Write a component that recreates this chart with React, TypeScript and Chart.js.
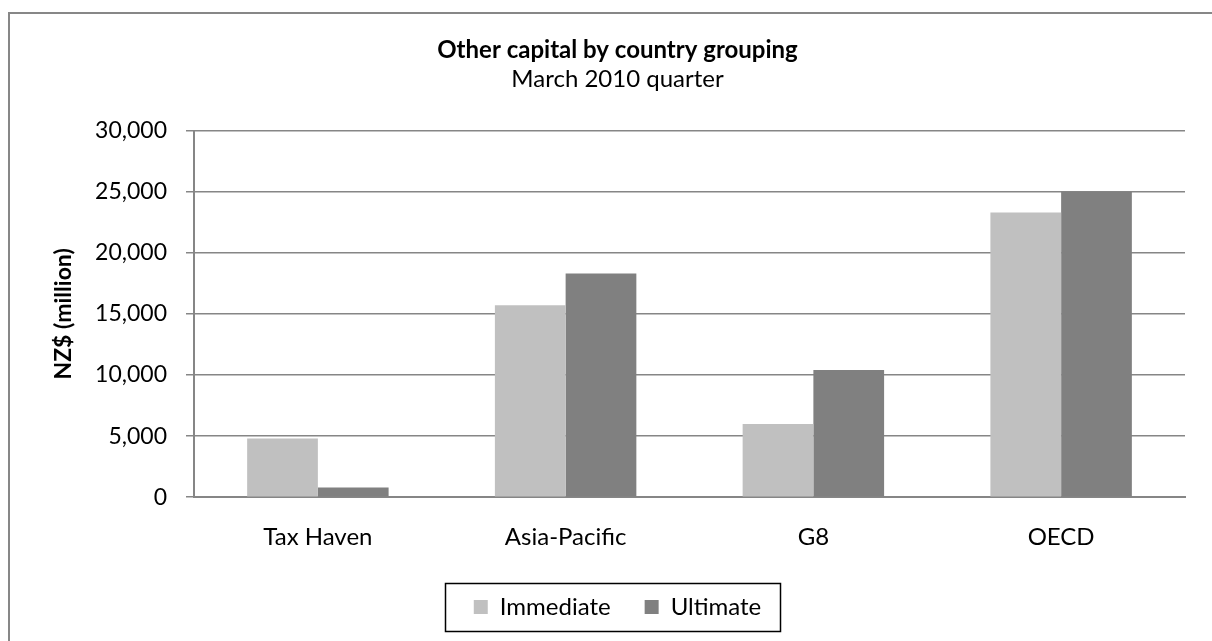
import React, { useEffect, useRef } from "react";
import { Chart, registerables } from "chart.js";

Chart.register(...registerables);

const categories = ["Tax Haven", "Asia-Pacific", "G8", "OECD"];
const immediate = [4800, 15700, 6000, 23300];
const ultimate = [800, 18300, 10400, 25000];
const yTicks = [0, 5000, 10000, 15000, 20000, 25000, 30000];

const FONT = "Lato, 'Open Sans', sans-serif";

const legendBox = {
  id: "legendBox",
  afterDraw(chart: any) {
    const lg = chart.legend;
    if (!lg || !lg.legendHitBoxes || !lg.legendHitBoxes.length) return;
    const hb = lg.legendHitBoxes;
    let minX = Infinity, maxX = -Infinity, minY = Infinity, maxY = -Infinity;
    hb.forEach((b: any) => {
      minX = Math.min(minX, b.left);
      maxX = Math.max(maxX, b.left + b.width);
      minY = Math.min(minY, b.top);
      maxY = Math.max(maxY, b.top + b.height);
    });
    const cy = (minY + maxY) / 2;
    const ctx = chart.ctx;
    ctx.save();
    ctx.strokeStyle = "#000";
    ctx.lineWidth = 1.5;
    ctx.strokeRect(Math.round(minX - 29) + 0.5, Math.round(cy - 24) + 0.5, Math.round(maxX - minX + 48), 48);
    ctx.restore();
  },
};

export default function App() {
  const ref = useRef<HTMLCanvasElement>(null);
  useEffect(() => {
    if (!ref.current) return;
    const chart = new Chart(ref.current, {
      type: "bar",
      data: {
        labels: categories,
        datasets: [
          { label: "Immediate", data: immediate, backgroundColor: "#c0c0c0", borderWidth: 0 },
          { label: "Ultimate", data: ultimate, backgroundColor: "#808080", borderWidth: 0 },
        ],
      },
      plugins: [legendBox],
      options: {
        responsive: false,
        animation: false,
        layout: { padding: { left: 50, right: 27, top: 0, bottom: 12 } },
        datasets: { bar: { barPercentage: 1, categoryPercentage: 0.571 } },
        plugins: {
          title: {
            display: true,
            text: "Other capital by country grouping",
            color: "#000",
            font: { family: FONT, size: 24, weight: "bold" },
            padding: { top: 36, bottom: 0 },
          },
          subtitle: {
            display: true,
            text: "March 2010 quarter",
            color: "#000",
            font: { family: FONT, size: 24 },
            padding: { top: 0, bottom: 37 },
          },
          legend: {
            position: "bottom",
            labels: {
              color: "#000",
              font: { family: FONT, size: 24 },
              boxWidth: 14,
              boxHeight: 14,
              padding: 34,
            },
          },
          tooltip: { enabled: false },
        },
        scales: {
          x: {
            grid: { display: false },
            border: { display: true, color: "#868686", width: 2 },
            ticks: { color: "#000", font: { family: FONT, size: 24 }, padding: 18 },
            afterFit: (s: any) => {
              s.height = s.height - 9;
            },
          },
          y: {
            min: 0,
            max: 30000,
            afterBuildTicks: (s: any) => {
              s.ticks = yTicks.map((v) => ({ value: v }));
            },
            afterFit: (s: any) => {
              s.width = 144;
            },
            grid: { color: "#868686", lineWidth: 1.5, tickLength: 8, tickColor: "#868686" },
            border: { display: true, color: "#868686", width: 2 },
            ticks: {
              color: "#000",
              font: { family: FONT, size: 23 },
              padding: 19,
              callback: (v: any) => Number(v).toLocaleString("en-US"),
            },
            title: {
              display: true,
              text: "NZ$ (million)",
              color: "#000",
              font: { family: FONT, size: 23, weight: "bold" },
              padding: { top: 0, bottom: 0 },
            },
          },
        },
      },
    });
    return () => chart.destroy();
  }, []);

  return (
    <div style={{ position: "fixed", left: 0, top: 0, width: 1212, height: 641, background: "#fff" }}>
      <div
        style={{
          position: "absolute",
          left: 8,
          top: 12,
          width: 1220,
          height: 650,
          borderLeft: "2px solid #878787",
          borderTop: "2px solid #878787",
          boxSizing: "border-box",
        }}
      />
      <canvas ref={ref} width={1212} height={641} style={{ position: "absolute", left: 0, top: 0 }} />
    </div>
  );
}
